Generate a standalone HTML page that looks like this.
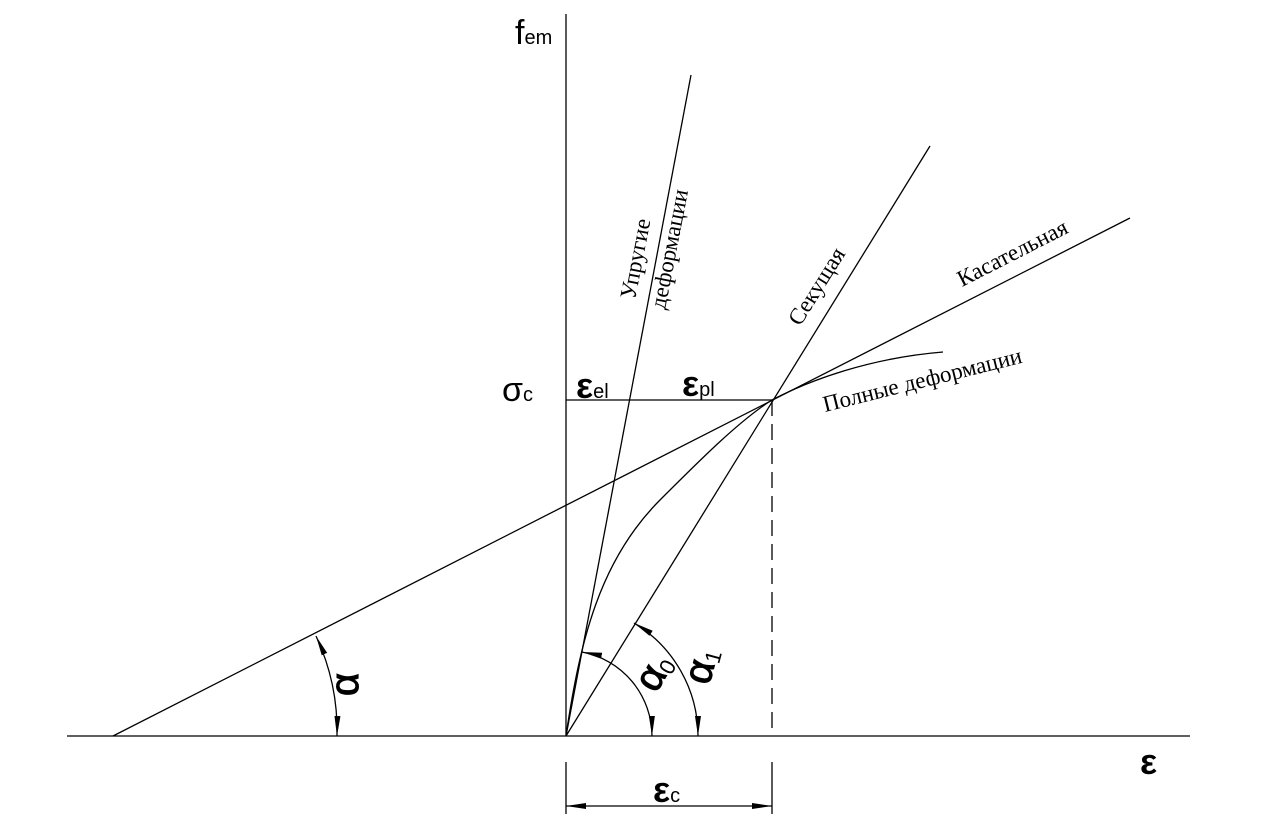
<!DOCTYPE html>
<html><head><meta charset="utf-8"><style>html,body{margin:0;padding:0;background:#fff}svg{display:block}</style></head>
<body>
<svg width="1280" height="828" viewBox="0 0 1280 828" xmlns="http://www.w3.org/2000/svg">
<defs>
<marker id="ar" viewBox="0 0 20 8" refX="20" refY="4" markerWidth="20" markerHeight="8" markerUnits="userSpaceOnUse" orient="auto-start-reverse"><path d="M0,1 L20,4 L0,7 z" fill="#000"/></marker>
</defs>
<g stroke="#000" stroke-width="1.3" fill="none">
<line x1="566" y1="14" x2="566" y2="736"/>
<line x1="67" y1="736" x2="1190" y2="736"/>
<line x1="566" y1="736" x2="691" y2="75"/>
<line x1="566" y1="736" x2="930" y2="146"/>
<line x1="113" y1="736" x2="1130" y2="218"/>
<line x1="772" y1="400" x2="566" y2="400"/>
<line x1="772" y1="400" x2="772" y2="736" stroke-dasharray="16,8"/>
<path d="M566,736 C580,640 600,560 660,500 C700,460 740,420 772,400 C810,380 870,358 943,352"/>
<line x1="566" y1="762" x2="566" y2="814"/>
<line x1="772" y1="762" x2="772" y2="814"/>
<line x1="566" y1="806" x2="772" y2="806" marker-start="url(#ar)" marker-end="url(#ar)"/>
<path d="M652,736 A86,86 0 0 0 582,652" marker-start="url(#ar)" marker-end="url(#ar)"/>
<path d="M698,736 A132,132 0 0 0 634,623" marker-start="url(#ar)" marker-end="url(#ar)"/>
<path d="M337,736 A224,224 0 0 0 316,636" marker-start="url(#ar)" marker-end="url(#ar)"/>
</g>
<g font-family="Liberation Sans, sans-serif" fill="#000">
<text x="515" y="44" font-size="34">f<tspan font-size="20">em</tspan></text>
<text x="502" y="401" font-size="34">σ<tspan font-size="20">c</tspan></text>
<text x="576" y="398" font-size="36" font-weight="bold">ε<tspan font-size="20" font-weight="normal">el</tspan></text>
<text x="682" y="396" font-size="36" font-weight="bold">ε<tspan font-size="20" font-weight="normal">pl</tspan></text>
<text x="1140" y="774" font-size="36" font-weight="bold">ε</text>
<text x="653" y="802" font-size="36" font-weight="bold">ε<tspan font-size="20" font-weight="normal">c</tspan></text>
<g stroke="#000" stroke-width="1">
<text transform="translate(358,696) rotate(-90)" font-size="40">α</text>
<text transform="translate(656,694) rotate(-60)" font-size="40">α<tspan font-size="22" stroke-width="0" dy="4">0</tspan></text>
<text transform="translate(709,686) rotate(-75)" font-size="40">α<tspan font-size="22" stroke-width="0" dy="4">1</tspan></text>
</g>
</g>
<g font-family="Liberation Serif, serif" font-size="23" fill="#000">
<text transform="translate(635,300) rotate(-79)">Упругие</text>
<text transform="translate(665,310) rotate(-79)">деформации</text>
<text transform="translate(800,327) rotate(-58)">Секущая</text>
<text transform="translate(962,287) rotate(-27)">Касательная</text>
<text transform="translate(825,412) rotate(-14)">Полные деформации</text>
</g>
</svg>
</body></html>
